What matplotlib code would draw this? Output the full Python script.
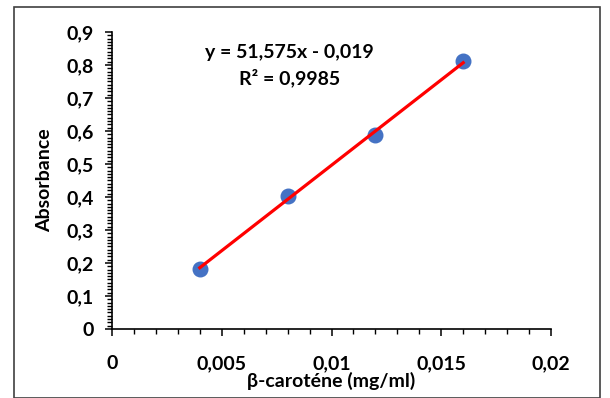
import numpy as np
import matplotlib.pyplot as plt
from matplotlib.ticker import MultipleLocator, FuncFormatter
from matplotlib.patches import Rectangle

# beta-carotene standard curve
conc = [0.004, 0.008, 0.012, 0.016]
absorb = [0.183, 0.403, 0.587, 0.812]
eq_text = 'y = 51,575x - 0,019'
r2_text = 'R² = 0,9985'

plt.rcParams['font.family'] = ['Lato', 'DejaVu Sans']
plt.rcParams['font.weight'] = 'bold'

fig = plt.figure(figsize=(6.1, 3.98), dpi=100)
ax = fig.add_axes([0.1836, 0.1734, 0.7197, 0.7462])

# frame around the whole chart
fig.patches.append(Rectangle((14/610, 0.0), 586/610, 1 - 7/398, transform=fig.transFigure,
                             fill=False, edgecolor='#404040', linewidth=1.2))

slope, inter = np.polyfit(conc, absorb, 1)
xl = np.array([conc[0], conc[-1]])
ax.scatter(conc, absorb, s=110, color='#4472C4', zorder=2)
ax.plot(xl, slope*xl + inter, color='red', linewidth=2.3, zorder=3)

ax.set_xlim(0, 0.02)
ax.set_ylim(0, 0.9)
ax.xaxis.set_major_locator(MultipleLocator(0.005))
ax.xaxis.set_minor_locator(MultipleLocator(0.001))
ax.yaxis.set_major_locator(MultipleLocator(0.1))
ax.yaxis.set_minor_locator(MultipleLocator(0.01))

def comma(v, pos):
    s = ('%.3f' % v).rstrip('0').rstrip('.')
    return s.replace('.', ',')

ax.xaxis.set_major_formatter(FuncFormatter(comma))
ax.yaxis.set_major_formatter(FuncFormatter(comma))

for s in ['top', 'right']:
    ax.spines[s].set_visible(False)
for s in ['left', 'bottom']:
    ax.spines[s].set_linewidth(1.2)
ax.tick_params(which='major', length=5, width=1.1, labelsize=14)
ax.tick_params(which='minor', length=3.5, width=1.0)
ax.tick_params(axis='x', which='major', pad=14)
ax.tick_params(axis='y', which='major', pad=8)

ax.set_xlabel('β-caroténe (mg/ml)', fontsize=14, fontweight='bold', labelpad=0)
ax.set_ylabel('Absorbance', fontsize=14, fontweight='bold', labelpad=10)

ax.text(0.0081, 0.838, eq_text, fontsize=14, fontweight='bold', ha='center', va='center')
ax.text(0.0081, 0.762, r2_text, fontsize=14, fontweight='bold', ha='center', va='center')

plt.savefig('out.png', dpi=100)
